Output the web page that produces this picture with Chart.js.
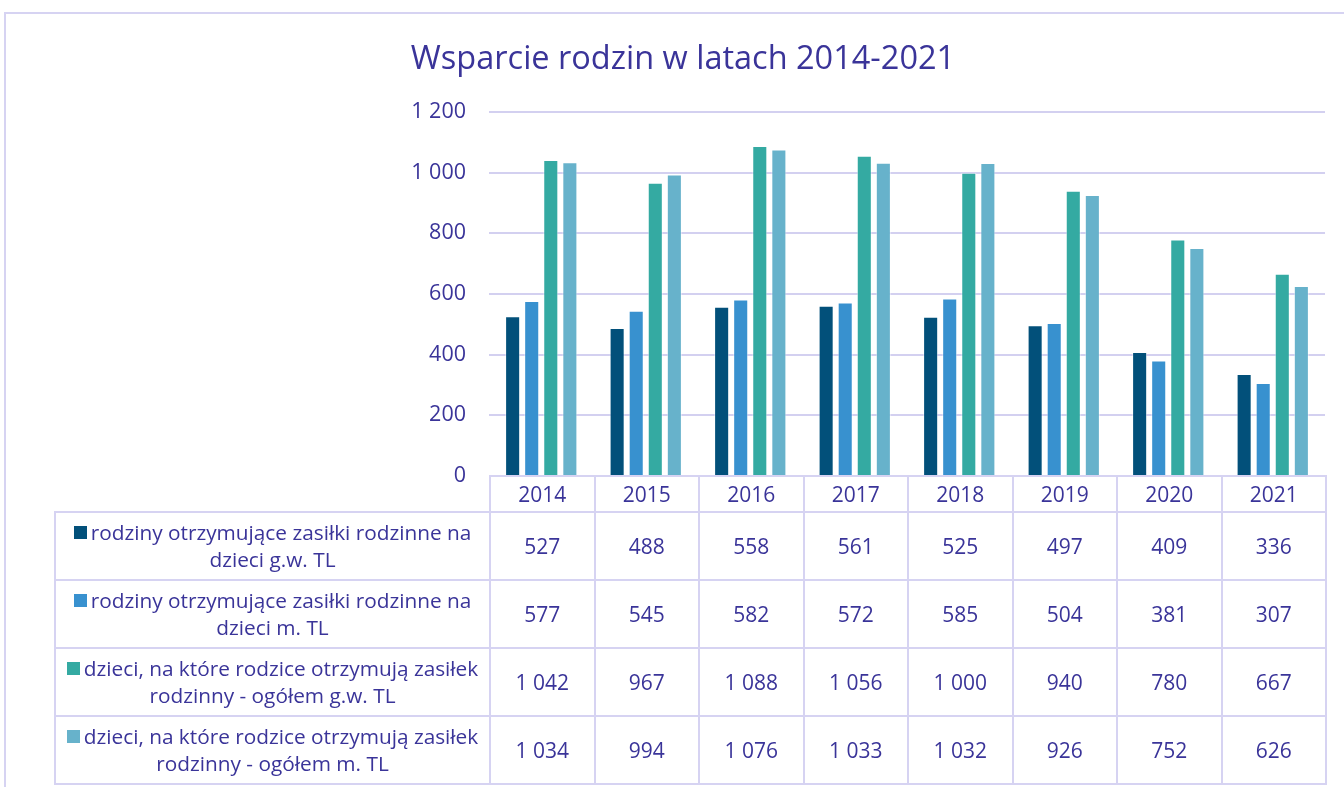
<!DOCTYPE html>
<html lang="pl">
<head>
<meta charset="utf-8">
<title>Wsparcie rodzin w latach 2014-2021</title>
<script src="https://cdn.jsdelivr.net/npm/chart.js@4.4.1/dist/chart.umd.min.js"></script>
<style>
  html, body { margin: 0; padding: 0; background: #fff; overflow: hidden; }
  body { width: 1344px; height: 787px; position: relative; font-family: "Open Sans", sans-serif; color: #3a3499; }
  #frame { position: absolute; left: 4px; top: 12px; width: 1400px; height: 820px; border: 2px solid #d6d3f2; box-sizing: border-box; }
  #chart { position: absolute; left: 0; top: 0; }
  #tbl { position: absolute; border-collapse: collapse; table-layout: fixed; font-size: 21px; }
  #tbl td { border: 2px solid #d6d3f2; text-align: center; padding: 0 1px; }
  #tbl tr.head td { height: 34px; }
  #tbl tr.head td.blank { border-top: none; border-left: none; }
  #tbl tr.row td { height: 66px; }
  #tbl td.name { line-height: 27px; font-size: 20.8px; white-space: nowrap; }
  .sw { display: inline-block; width: 13px; height: 13px; margin-right: 4px; vertical-align: 1px; }
</style>
</head>
<body>
<div id="frame"></div>
<canvas id="chart" width="1366" height="787"></canvas>
<table id="tbl"></table>
<script>
"use strict";

var years = ["2014", "2015", "2016", "2017", "2018", "2019", "2020", "2021"];

var seriesNames = [
  ["rodziny otrzymujące zasiłki rodzinne na", "dzieci g.w. TL"],
  ["rodziny otrzymujące zasiłki rodzinne na", "dzieci m. TL"],
  ["dzieci, na które rodzice otrzymują zasiłek", "rodzinny - ogółem g.w. TL"],
  ["dzieci, na które rodzice otrzymują zasiłek", "rodzinny - ogółem m. TL"]
];

var familiesGw = [527, 488, 558, 561, 525, 497, 409, 336];
var familiesM = [577, 545, 582, 572, 585, 504, 381, 307];
var childrenGw = [1042, 967, 1088, 1056, 1000, 940, 780, 667];
var childrenM = [1034, 994, 1076, 1033, 1032, 926, 752, 626];

var seriesColors = ["#02507a", "#3891cf", "#34aaa2", "#67b2cb"];

var textColor = "#3a3499";
var gridColor = "#d3d0f0";

function fmt(v) {
  return String(v).replace(/\B(?=(\d{3})+(?!\d))/g, " ");
}

var allSeries = [familiesGw, familiesM, childrenGw, childrenM];

var ctx = document.getElementById("chart").getContext("2d");

var chart = new Chart(ctx, {
  type: "bar",
  data: {
    labels: years,
    datasets: allSeries.map((vals, i) => ({
      label: seriesNames[i].join(" "),
      data: vals,
      backgroundColor: seriesColors[i],
      borderColor: "rgba(255,255,255,0.5)",
      borderWidth: 1,
      categoryPercentage: 0.73,
      barPercentage: 0.79,
    })),
  },
  options: {
    responsive: false,
    animation: false,
    // left/right padding kept equal so the title is centred like the original
    layout: { padding: { left: 41, right: 41, top: 0, bottom: 311 } },
    plugins: {
      legend: { display: false },
      tooltip: { enabled: false },
      title: {
        display: true,
        text: "Wsparcie rodzin w latach 2014-2021",
        color: textColor,
        font: { family: "Open Sans", size: 32.5, weight: "normal" },
        padding: { top: 40, bottom: 33 },
      },
    },
    scales: {
      x: { display: false },
      y: {
        min: 0,
        max: 1200,
        ticks: {
          stepSize: 200,
          color: textColor,
          padding: 23,
          font: { family: "Open Sans", size: 21.5 },
          callback: (v) => fmt(v),
        },
        grid: { color: gridColor, lineWidth: 2, drawTicks: false },
        border: { display: false },
        afterFit: (scale) => { scale.width = 448; },
      },
    },
  },
});

// build the data table under the plot, columns follow the x scale
function buildTable() {
  var xs = chart.scales.x;
  var area = chart.chartArea;
  var colW = (xs.right - xs.left) / years.length;
  var tableLeft = 54;
  var tbl = document.getElementById("tbl");
  var html = "<colgroup><col style='width:" + (area.left - tableLeft) + "px'>";
  years.forEach(() => { html += "<col style='width:" + colW + "px'>"; });
  html += "</colgroup>";
  html += "<tr class='head'><td class='blank'></td>";
  years.forEach((y) => { html += "<td>" + y + "</td>"; });
  html += "</tr>";
  allSeries.forEach((vals, i) => {
    html += "<tr class='row'><td class='name'><span class='sw' style='background:" +
      seriesColors[i] + "'></span>" + seriesNames[i].join("<br>") + "</td>";
    vals.forEach((v) => { html += "<td>" + fmt(v) + "</td>"; });
    html += "</tr>";
  });
  tbl.innerHTML = html;
  tbl.style.left = tableLeft + "px";
  tbl.style.top = (area.bottom - 1) + "px";
  tbl.style.width = (xs.right - tableLeft) + "px";
}
buildTable();
</script>
</body>
</html>
